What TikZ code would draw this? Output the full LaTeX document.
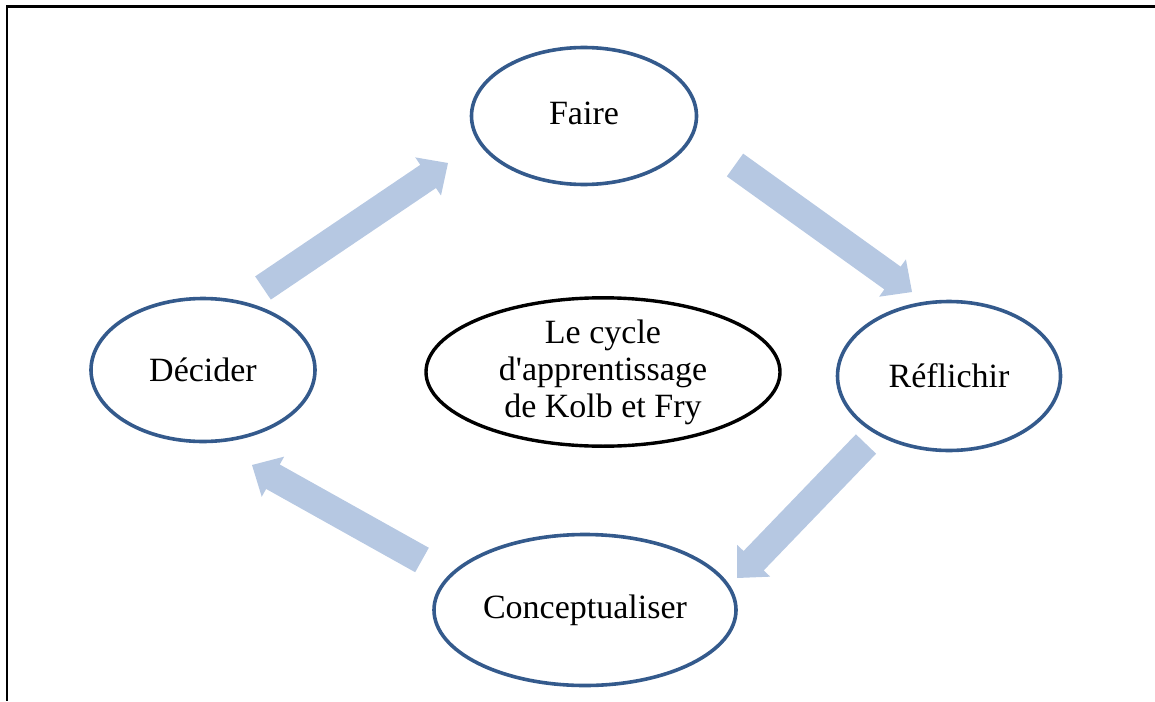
\documentclass[tikz,border=0pt]{standalone}
\usepackage{fontspec}
\setmainfont{Liberation Serif}[Ligatures=TeXOff]
\usetikzlibrary{shapes.geometric,calc}

\definecolor{ringblue}{RGB}{52,90,140}
\definecolor{flowblue}{RGB}{182,200,226}

\tikzset{
  stage/.style={ellipse, draw=ringblue, line width=3.6pt, inner sep=0pt,
    font=\fontsize{34}{37}\selectfont, text=black},
  core/.style={ellipse, draw=black, line width=3.4pt, inner sep=0pt,
    align=center, font=\fontsize{34}{37}\selectfont, text=black},
  frame/.style={line width=2.2pt, draw=black},
  flow/.style={fill=flowblue, draw=none}
}

% wide block arrow from tail centre #1 to tip #2
\newcommand{\blockflow}[2]{%
  \path ($(#2)!24pt!(#1)$) coordinate (hb);
  \fill[flow] ($(#1)!14pt!90:(#2)$) -- ($(hb)!14pt!90:(#2)$)
    -- ($(hb)!23pt!90:(#2)$) -- (#2) -- ($(hb)!23pt!-90:(#2)$)
    -- ($(hb)!14pt!-90:(#2)$) -- ($(#1)!14pt!-90:(#2)$) -- cycle;
}

\begin{document}
\begin{tikzpicture}[x=1pt,y=-1pt]
  \useasboundingbox (0,0) rectangle (1155,701);

  % open frame: top and left edges only
  \coordinate (fr1) at (1155,6.5);
  \coordinate (fr2) at (6.8,6.5);
  \coordinate (fr3) at (6.8,701);
  \draw[frame] (fr1) -- (fr2) -- (fr3);

  % the four stages and the central title
  \node[stage, minimum width=225pt, minimum height=137pt] (faire) at (584,116) {\raisebox{5pt}{Faire}};
  \node[stage, minimum width=224pt, minimum height=143pt] (decider) at (203,370) {Décider};
  \node[stage, minimum width=223pt, minimum height=149pt] (reflechir) at (949,376) {Réflichir};
  \node[stage, minimum width=302pt, minimum height=151pt] (concept) at (585,610) {Conceptualiser};
  \node[core, minimum width=354pt, minimum height=147pt] (cycle) at (603,372)
    {Le cycle\\d'apprentissage\\de Kolb et Fry};

  % ends of the cycle arrows
  \coordinate (dfTail) at (263,288);
  \coordinate (dfTip) at (448,163);
  \coordinate (frTail) at (735,165);
  \coordinate (frTip) at (912,292);
  \coordinate (rcTail) at (866,444);
  \coordinate (rcTip) at (737,578);
  \coordinate (cdTail) at (422,560);
  \coordinate (cdTip) at (252,465);

  \blockflow{dfTail}{dfTip}
  \blockflow{frTail}{frTip}
  \blockflow{rcTail}{rcTip}
  \blockflow{cdTail}{cdTip}
\end{tikzpicture}
\end{document}
